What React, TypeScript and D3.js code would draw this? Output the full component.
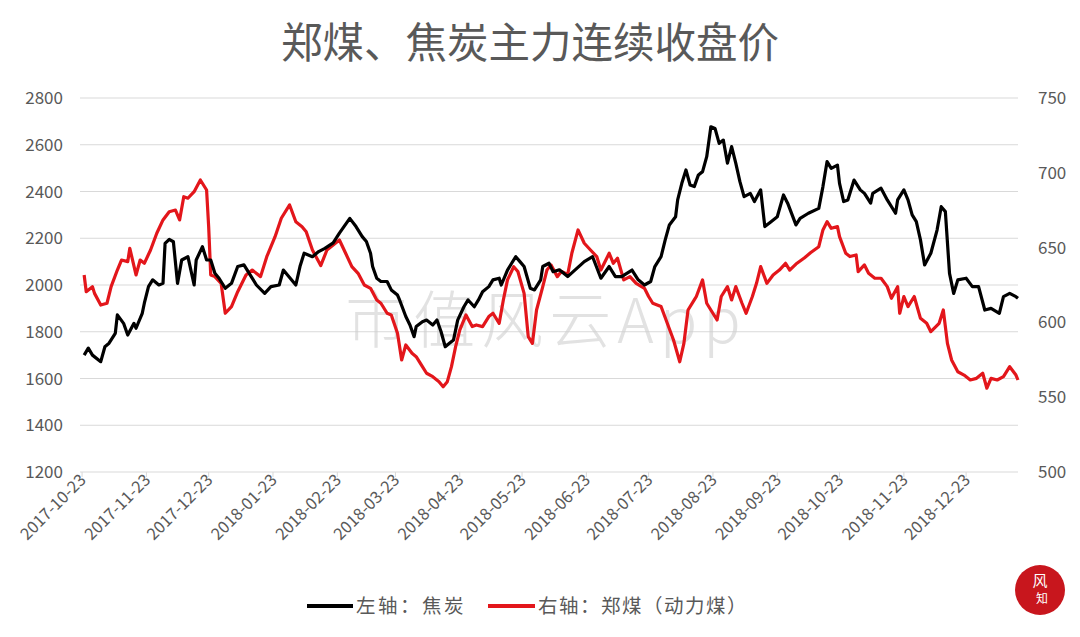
import * as d3 from 'd3'

// 焦炭 (left axis)
const cokeSeries: [string, number][] = [
  ['2017-10-24', 1700], ['2017-10-26', 1730], ['2017-10-28', 1700], ['2017-11-01', 1672],
  ['2017-11-03', 1736], ['2017-11-05', 1751], ['2017-11-08', 1793], ['2017-11-09', 1872],
  ['2017-11-12', 1836], ['2017-11-14', 1786], ['2017-11-17', 1836], ['2017-11-18', 1815],
  ['2017-11-21', 1879], ['2017-11-22', 1922], ['2017-11-24', 1993], ['2017-11-26', 2022],
  ['2017-11-29', 2000], ['2017-12-01', 2007], ['2017-12-02', 2178], ['2017-12-04', 2195],
  ['2017-12-06', 2185], ['2017-12-08', 2007], ['2017-12-10', 2107], ['2017-12-13', 2121],
  ['2017-12-16', 2000], ['2017-12-17', 2107], ['2017-12-20', 2164], ['2017-12-22', 2107],
  ['2017-12-24', 2107], ['2017-12-26', 2050], ['2017-12-28', 2029], ['2017-12-31', 1986],
  ['2018-01-03', 2007], ['2018-01-06', 2079], ['2018-01-09', 2086], ['2018-01-12', 2043],
  ['2018-01-15', 2000], ['2018-01-19', 1964], ['2018-01-22', 1993], ['2018-01-26', 2000],
  ['2018-01-28', 2064], ['2018-01-30', 2043], ['2018-02-03', 2000], ['2018-02-05', 2079],
  ['2018-02-07', 2136], ['2018-02-11', 2121], ['2018-02-14', 2143], ['2018-02-17', 2157],
  ['2018-02-21', 2180], ['2018-02-24', 2222], ['2018-03-01', 2285], ['2018-03-04', 2250],
  ['2018-03-07', 2207], ['2018-03-09', 2186], ['2018-03-11', 2136], ['2018-03-12', 2079],
  ['2018-03-14', 2029], ['2018-03-16', 2015], ['2018-03-19', 2015], ['2018-03-21', 1979],
  ['2018-03-24', 1957], ['2018-03-25', 1936], ['2018-03-28', 1865], ['2018-03-30', 1829],
  ['2018-04-01', 1779], ['2018-04-02', 1822], ['2018-04-05', 1843], ['2018-04-07', 1850],
  ['2018-04-10', 1829], ['2018-04-12', 1850], ['2018-04-14', 1800], ['2018-04-16', 1736],
  ['2018-04-18', 1751], ['2018-04-20', 1765], ['2018-04-22', 1850], ['2018-04-25', 1907],
  ['2018-04-27', 1936], ['2018-04-30', 1907], ['2018-05-02', 1936], ['2018-05-04', 1971],
  ['2018-05-07', 1993], ['2018-05-09', 2022], ['2018-05-12', 2029], ['2018-05-13', 2000],
  ['2018-05-16', 2064], ['2018-05-18', 2093], ['2018-05-20', 2121], ['2018-05-22', 2100],
  ['2018-05-24', 2079], ['2018-05-27', 1986], ['2018-05-29', 1979], ['2018-06-01', 2022],
  ['2018-06-02', 2079], ['2018-06-05', 2093], ['2018-06-07', 2057], ['2018-06-10', 2065],
  ['2018-06-14', 2036], ['2018-06-22', 2100], ['2018-06-26', 2121], ['2018-06-30', 2029],
  ['2018-07-04', 2079], ['2018-07-07', 2036], ['2018-07-10', 2036], ['2018-07-15', 2064],
  ['2018-07-18', 2022], ['2018-07-21', 2000], ['2018-07-24', 2015], ['2018-07-26', 2079],
  ['2018-07-29', 2121], ['2018-07-31', 2193], ['2018-08-02', 2257], ['2018-08-05', 2292],
  ['2018-08-06', 2364], ['2018-08-08', 2435], ['2018-08-10', 2492], ['2018-08-12', 2428],
  ['2018-08-14', 2421], ['2018-08-16', 2471], ['2018-08-18', 2485], ['2018-08-20', 2549],
  ['2018-08-22', 2677], ['2018-08-24', 2670], ['2018-08-26', 2606], ['2018-08-28', 2620],
  ['2018-08-30', 2521], ['2018-09-01', 2592], ['2018-09-03', 2521], ['2018-09-05', 2442],
  ['2018-09-07', 2378], ['2018-09-10', 2392], ['2018-09-12', 2357], ['2018-09-15', 2407],
  ['2018-09-17', 2250], ['2018-09-20', 2271], ['2018-09-23', 2292], ['2018-09-26', 2385],
  ['2018-09-28', 2350], ['2018-10-02', 2257], ['2018-10-04', 2285], ['2018-10-08', 2307],
  ['2018-10-13', 2328], ['2018-10-15', 2421], ['2018-10-17', 2528], ['2018-10-19', 2499],
  ['2018-10-22', 2513], ['2018-10-23', 2435], ['2018-10-25', 2357], ['2018-10-27', 2364],
  ['2018-10-30', 2449], ['2018-11-02', 2407], ['2018-11-04', 2392], ['2018-11-07', 2350],
  ['2018-11-08', 2392], ['2018-11-12', 2414], ['2018-11-15', 2364], ['2018-11-19', 2307],
  ['2018-11-20', 2364], ['2018-11-23', 2407], ['2018-11-25', 2364], ['2018-11-27', 2300],
  ['2018-11-29', 2271], ['2018-12-01', 2193], ['2018-12-03', 2086], ['2018-12-06', 2136],
  ['2018-12-09', 2235], ['2018-12-11', 2335], ['2018-12-13', 2314], ['2018-12-15', 2050],
  ['2018-12-17', 1964], ['2018-12-19', 2022], ['2018-12-23', 2029], ['2018-12-26', 1993],
  ['2018-12-29', 1993], ['2019-01-01', 1893], ['2019-01-04', 1900], ['2019-01-08', 1879],
  ['2019-01-10', 1950], ['2019-01-13', 1964], ['2019-01-16', 1950], ['2019-01-17', 1943],
]

// 郑煤 (right axis)
const coalSeries: [string, number][] = [
  ['2017-10-24', 631.7], ['2017-10-25', 620.5], ['2017-10-28', 623.9], ['2017-10-29', 619.4],
  ['2017-11-01', 611.6], ['2017-11-04', 612.8], ['2017-11-06', 623.9], ['2017-11-09', 635.0],
  ['2017-11-11', 641.7], ['2017-11-14', 640.6], ['2017-11-15', 649.5], ['2017-11-18', 631.7],
  ['2017-11-20', 641.7], ['2017-11-22', 639.5], ['2017-11-25', 648.4], ['2017-11-28', 659.6],
  ['2017-12-01', 668.5], ['2017-12-04', 674.0], ['2017-12-07', 675.1], ['2017-12-09', 668.5],
  ['2017-12-11', 684.0], ['2017-12-13', 683.0], ['2017-12-16', 687.4], ['2017-12-19', 695.2],
  ['2017-12-22', 688.5], ['2017-12-23', 664.0], ['2017-12-24', 631.7], ['2017-12-26', 630.6],
  ['2017-12-29', 626.1], ['2017-12-31', 606.1], ['2018-01-03', 610.6], ['2018-01-06', 620.5],
  ['2018-01-10', 631.7], ['2018-01-13', 635.0], ['2018-01-17', 630.6], ['2018-01-20', 643.9],
  ['2018-01-24', 657.3], ['2018-01-27', 669.6], ['2018-01-31', 678.5], ['2018-02-03', 667.3],
  ['2018-02-06', 664.0], ['2018-02-08', 660.6], ['2018-02-11', 648.4], ['2018-02-15', 638.0],
  ['2018-02-18', 648.4], ['2018-02-21', 651.7], ['2018-02-24', 655.1], ['2018-02-27', 646.2],
  ['2018-03-02', 637.3], ['2018-03-05', 632.8], ['2018-03-08', 625.0], ['2018-03-11', 622.8],
  ['2018-03-14', 615.0], ['2018-03-16', 612.8], ['2018-03-19', 606.1], ['2018-03-21', 605.0],
  ['2018-03-24', 592.7], ['2018-03-26', 574.9], ['2018-03-28', 584.9], ['2018-03-31', 579.4],
  ['2018-04-02', 577.1], ['2018-04-05', 570.4], ['2018-04-07', 566.0], ['2018-04-10', 563.7],
  ['2018-04-13', 560.4], ['2018-04-15', 557.0], ['2018-04-17', 560.4], ['2018-04-19', 570.4],
  ['2018-04-21', 583.8], ['2018-04-23', 594.9], ['2018-04-26', 605.0], ['2018-04-29', 597.2],
  ['2018-05-01', 598.3], ['2018-05-04', 597.2], ['2018-05-07', 603.9], ['2018-05-09', 606.1],
  ['2018-05-12', 599.4], ['2018-05-14', 615.0], ['2018-05-16', 628.4], ['2018-05-19', 637.2],
  ['2018-05-21', 634.0], ['2018-05-24', 619.4], ['2018-05-26', 590.5], ['2018-05-28', 586.0],
  ['2018-05-30', 608.3], ['2018-06-02', 623.9], ['2018-06-04', 635.0], ['2018-06-06', 638.4],
  ['2018-06-09', 630.6], ['2018-06-11', 634.0], ['2018-06-14', 632.0], ['2018-06-16', 646.2],
  ['2018-06-19', 661.8], ['2018-06-22', 652.9], ['2018-06-25', 648.4], ['2018-06-28', 644.0],
  ['2018-06-30', 635.0], ['2018-07-04', 646.2], ['2018-07-06', 639.5], ['2018-07-08', 642.9],
  ['2018-07-11', 628.4], ['2018-07-14', 630.6], ['2018-07-17', 626.1], ['2018-07-21', 622.8],
  ['2018-07-23', 617.3], ['2018-07-25', 612.8], ['2018-07-29', 610.6], ['2018-08-01', 599.4],
  ['2018-08-04', 588.2], ['2018-08-07', 573.7], ['2018-08-09', 586.0], ['2018-08-11', 608.3],
  ['2018-08-14', 615.0], ['2018-08-15', 617.3], ['2018-08-18', 628.4], ['2018-08-20', 612.8],
  ['2018-08-22', 608.3], ['2018-08-25', 601.6], ['2018-08-27', 617.3], ['2018-08-30', 623.9],
  ['2018-09-01', 615.0], ['2018-09-03', 623.9], ['2018-09-06', 612.8], ['2018-09-08', 606.1],
  ['2018-09-11', 617.3], ['2018-09-13', 626.1], ['2018-09-15', 637.3], ['2018-09-18', 626.1],
  ['2018-09-21', 631.7], ['2018-09-24', 635.0], ['2018-09-27', 639.5], ['2018-09-29', 635.0],
  ['2018-10-02', 639.0], ['2018-10-06', 643.0], ['2018-10-09', 646.5], ['2018-10-13', 650.6],
  ['2018-10-15', 661.8], ['2018-10-17', 667.3], ['2018-10-19', 662.9], ['2018-10-22', 664.0],
  ['2018-10-23', 657.3], ['2018-10-26', 646.2], ['2018-10-28', 644.0], ['2018-10-31', 645.1],
  ['2018-11-01', 633.9], ['2018-11-04', 638.4], ['2018-11-06', 632.8], ['2018-11-09', 629.5],
  ['2018-11-12', 629.5], ['2018-11-15', 623.9], ['2018-11-17', 616.1], ['2018-11-20', 623.9],
  ['2018-11-21', 606.1], ['2018-11-23', 617.3], ['2018-11-25', 610.6], ['2018-11-28', 617.3],
  ['2018-12-01', 602.7], ['2018-12-04', 599.4], ['2018-12-06', 593.8], ['2018-12-10', 599.4],
  ['2018-12-12', 608.3], ['2018-12-14', 586.0], ['2018-12-16', 574.9], ['2018-12-19', 567.0],
  ['2018-12-22', 564.8], ['2018-12-25', 561.5], ['2018-12-28', 562.6], ['2018-12-31', 566.0],
  ['2019-01-02', 556.0], ['2019-01-04', 562.6], ['2019-01-07', 561.5], ['2019-01-10', 563.7],
  ['2019-01-13', 570.4], ['2019-01-16', 564.8], ['2019-01-17', 561.5],
]

const leftTicks = [1200, 1400, 1600, 1800, 2000, 2200, 2400, 2600, 2800]
const rightTicks = [500, 550, 600, 650, 700, 750]
const dateLabels = [
  '2017-10-23', '2017-11-23', '2017-12-23', '2018-01-23', '2018-02-23',
  '2018-03-23', '2018-04-23', '2018-05-23', '2018-06-23', '2018-07-23',
  '2018-08-23', '2018-09-23', '2018-10-23', '2018-11-23', '2018-12-23',
]
const title = '郑煤、焦炭主力连续收盘价'
const legendItems = [
  { label: '左轴：焦炭', color: '#000000' },
  { label: '右轴：郑煤（动力煤）', color: '#e3161b' },
]

const W = 1080
const H = 637
const plot = { left: 80, right: 1018, top: 98, bottom: 472 }
const font = '"Noto Sans CJK SC", "Noto Sans", sans-serif'
const textColor = '#595959'
const gridColor = '#d9d9d9'

const parse = d3.timeParse('%Y-%m-%d')

export default function App() {
  const x = d3.scaleTime()
    .domain([parse('2017-10-22')!, parse('2019-01-17')!])
    .range([plot.left, plot.right])
  const yL = d3.scaleLinear().domain([1200, 2800]).range([plot.bottom, plot.top])
  const yR = d3.scaleLinear().domain([500, 750]).range([plot.bottom, plot.top])

  const cokeLine = d3.line<[string, number]>()
    .x(d => x(parse(d[0])!))
    .y(d => yL(d[1]))
  const coalLine = d3.line<[string, number]>()
    .x(d => x(parse(d[0])!))
    .y(d => yR(d[1]))

  return (
    <svg width={W} height={H} style={{ position: 'absolute', left: 0, top: 0, background: '#fff' }}
      fontFamily={font}>
      <rect width={W} height={H} fill="#fff" />
      <text x={530} y={58} textAnchor="middle" fontSize={41.5} fill={textColor}>{title}</text>

      {/* gridlines */}
      {leftTicks.map(t => (
        <line key={t} x1={plot.left} x2={plot.right} y1={yL(t)} y2={yL(t)}
          stroke={gridColor} strokeWidth={1.2} />
      ))}

      {/* watermark */}
      <text x={546} y={343} textAnchor="middle" fontSize={62} fill="#cfcfcf" opacity={0.6}
        fontWeight={300} letterSpacing={6}>市值风云App</text>

      {/* left axis labels */}
      {leftTicks.map(t => (
        <text key={t} x={63} y={yL(t) + 6} textAnchor="end" fontSize={17} fill={textColor}>{t}</text>
      ))}
      {/* right axis labels */}
      {rightTicks.map(t => (
        <text key={t} x={1038} y={yR(t) + 6} textAnchor="start" fontSize={17} fill={textColor}>{t}</text>
      ))}

      {/* x tick marks and labels */}
      {dateLabels.map(s => {
        const tx = x(parse(s)!)
        return (
          <g key={s}>
            <line x1={tx} x2={tx} y1={plot.bottom} y2={plot.bottom + 5} stroke={gridColor} />
            <text transform={`translate(${tx + 5},${plot.bottom + 9}) rotate(-45)`} textAnchor="end"
              fontSize={16.5} fill={textColor}>{s}</text>
          </g>
        )
      })}

      {/* series */}
      <path d={coalLine(coalSeries) ?? ''} fill="none" stroke={legendItems[1].color} strokeWidth={3.2}
        strokeLinejoin="round" />
      <path d={cokeLine(cokeSeries) ?? ''} fill="none" stroke={legendItems[0].color} strokeWidth={3.2}
        strokeLinejoin="round" />

      {/* legend */}
      <g transform="translate(307,606)">
        <line x1={0} x2={46} y1={0} y2={0} stroke={legendItems[0].color} strokeWidth={4} />
        <text x={49} y={7} fontSize={19.5} letterSpacing={2.5} fill={textColor}>{legendItems[0].label}</text>
        <line x1={181} x2={228} y1={0} y2={0} stroke={legendItems[1].color} strokeWidth={4} />
        <text x={231} y={7} fontSize={19.5} letterSpacing={1.5} fill={textColor}>{legendItems[1].label}</text>
      </g>

      {/* corner seal */}
      <circle cx={1040} cy={590} r={25} fill="#c8161d" />
      <text x={1040} y={586} textAnchor="middle" fontSize={15} fill="#fff">风</text>
      <text x={1042} y={603} textAnchor="middle" fontSize={12} fill="#fff">知</text>
    </svg>
  )
}
